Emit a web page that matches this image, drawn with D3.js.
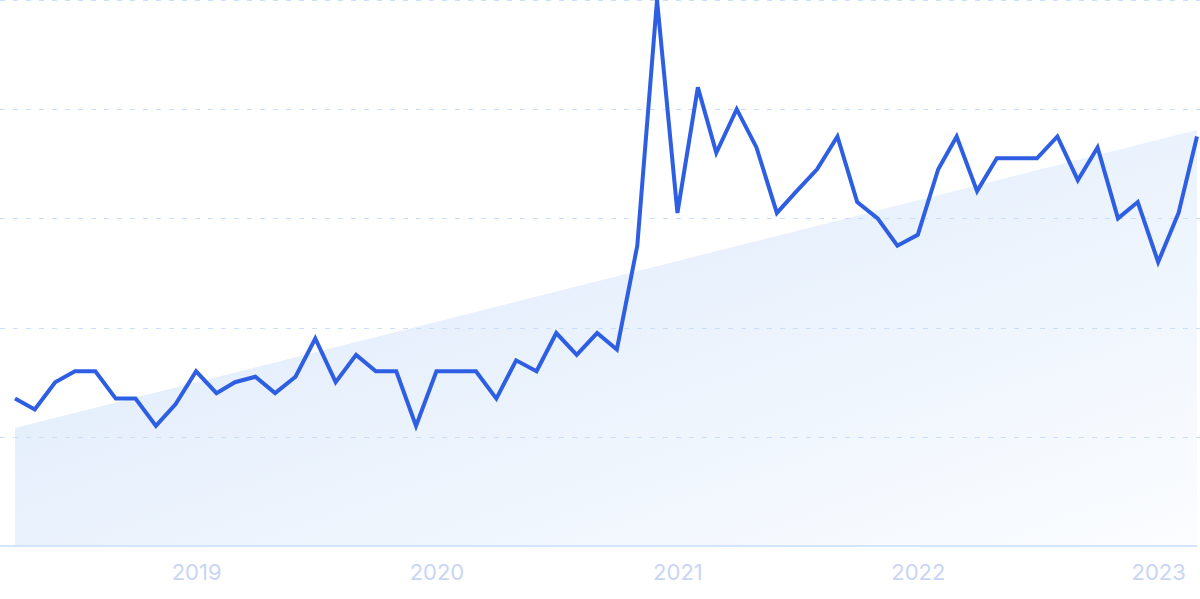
<!DOCTYPE html>
<html>
<head>
<meta charset="utf-8">
<script src="https://cdn.jsdelivr.net/npm/d3@7"></script>
<style>
  html, body { margin: 0; padding: 0; background: #ffffff; }
  svg { display: block; }
</style>
</head>
<body>
<svg id="chart" width="1200" height="599"></svg>
<script>
// Data: monthly values, April 2018 – March 2023
const startMonth = "2018-04";
const values = [27, 25, 30, 32, 32, 27, 27, 22, 26, 32, 28, 30, 31, 28, 31, 38, 30, 35, 32, 32,
                22, 32, 32, 32, 27, 34, 32, 39, 35, 39, 36, 55, 100, 61, 84, 72, 80, 73, 61, 65,
                69, 75, 63, 60, 55, 57, 69, 75, 65, 71, 71, 71, 75, 67, 73, 60, 63, 52, 61, 75];
const trendValues = [21.6, 76.2];
const yTicks = [0, 20, 40, 60, 80, 100];
const xTickLabels = ["2019", "2020", "2021", "2022", "2023"];

const svg = d3.select("#chart");
const W = 1200, H = 599;
const plot = { left: 15, right: 1197, top: 0, bottom: 546 };

const parseMonth = d3.timeParse("%Y-%m");
const start = parseMonth(startMonth);
const data = values.map((v, i) => ({ date: d3.timeMonth.offset(start, i), value: v }));

const x = d3.scaleTime()
  .domain([data[0].date, data[data.length - 1].date])
  .range([plot.left, plot.right]);
const y = d3.scaleLinear().domain([0, 100]).range([plot.bottom, plot.top]);

// gradient
const defs = svg.append("defs");
const grad = defs.append("linearGradient")
  .attr("id", "trendGrad")
  .attr("x1", "0").attr("y1", "0").attr("x2", "1").attr("y2", "1");
grad.append("stop").attr("offset", "0%").attr("stop-color", "#d9e7fa");
grad.append("stop").attr("offset", "100%").attr("stop-color", "#fbfdff");

// trend area
const trendData = [
  { date: data[0].date, value: trendValues[0] },
  { date: data[data.length - 1].date, value: trendValues[1] }
];
svg.append("path")
  .datum(trendData)
  .attr("fill", "url(#trendGrad)")
  .attr("d", d3.area().x(d => x(d.date)).y0(y(0)).y1(d => y(d.value)));

// gridlines
svg.append("g")
  .selectAll("line")
  .data(yTicks.filter(t => t > 0))
  .join("line")
  .attr("x1", 0).attr("x2", W)
  .attr("y1", d => Math.round(y(d)) + 0.5).attr("y2", d => Math.round(y(d)) + 0.5)
  .attr("stroke", "#c9def9")
  .attr("stroke-width", 1.2)
  .attr("stroke-dasharray", "5,8");

// x axis
const tickDates = xTickLabels.map(l => d3.timeParse("%Y")(l));
const xAxis = d3.axisBottom(x)
  .tickValues(tickDates)
  .tickFormat(d3.timeFormat("%Y"))
  .tickSize(0)
  .tickPadding(18);
const gx = svg.append("g")
  .attr("transform", `translate(0,${plot.bottom})`)
  .call(xAxis);
gx.select(".domain").remove();
gx.selectAll("text")
  .attr("fill", "#c9d5f5")
  .attr("font-family", "Inter, 'Noto Sans', sans-serif")
  .attr("font-size", 22)
  .attr("font-weight", 400);
gx.append("line")
  .attr("x1", 0).attr("x2", plot.right)
  .attr("y1", 0).attr("y2", 0)
  .attr("stroke", "#d3e4fb")
  .attr("stroke-width", 2);

// main line
svg.append("path")
  .datum(data)
  .attr("fill", "none")
  .attr("stroke", "#2e5fe3")
  .attr("stroke-width", 4)
  .attr("stroke-linejoin", "miter")
  .attr("stroke-miterlimit", 4)
  .attr("d", d3.line().x(d => x(d.date)).y(d => y(d.value)));
</script>
</body>
</html>
